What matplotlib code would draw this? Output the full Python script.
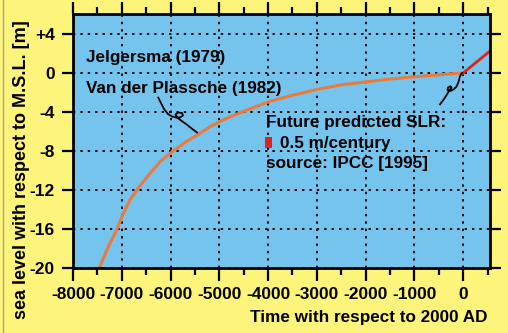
import matplotlib
matplotlib.use("Agg")
import matplotlib.pyplot as plt
from matplotlib.lines import Line2D
from matplotlib.patches import Rectangle
from matplotlib.ticker import MultipleLocator

# ---- data ----
past_years = [-7460, -7276, -7104, -6968, -6831, -6661, -6455, -6215, -5975,
              -5668, -5395, -5190, -4917, -4437, -3959, -3481, -3001, -2523,
              -1975, -1497, -1019, -540, 0]
past_level = [-20.0, -17.8, -16.1, -14.4, -13.0, -11.8, -10.5, -9.1, -8.1,
              -7.0, -6.2, -5.5, -4.8, -3.8, -2.9, -2.26, -1.7, -1.23,
              -0.9, -0.62, -0.4, -0.2, 0.0]
future_years = [0, 550]
future_level = [0.0, 2.25]

x_ticks = [-8000, -7000, -6000, -5000, -4000, -3000, -2000, -1000, 0]
x_ticklabels = ["-8000", "-7000", "-6000", "-5000", "-4000", "-3000", "-2000", "-1000", "0"]
y_ticks = [4, 0, -4, -8, -12, -16, -20]
y_ticklabels = ["+4", "0", "-4", "-8", "-12", "-16", "-20"]

plt.rcParams["font.family"] = ["Liberation Sans", "DejaVu Sans"]
plt.rcParams["font.weight"] = "bold"

YELLOW = "#FDF47C"
BLUE = "#74C4EE"
ORANGE = "#EC7A3C"
RED = "#E0221C"

W, H = 508, 333
fig = plt.figure(figsize=(W / 100, H / 100), dpi=100, facecolor=YELLOW)
ax = fig.add_axes([73 / W, 1 - 268 / H, (490 - 73) / W, (268 - 14) / H])
ax.set_facecolor(BLUE)
ax.set_xlim(-8000, 550)
ax.set_ylim(-20, 6.05)

ax.plot(past_years, past_level, color=ORANGE, lw=2.2, solid_capstyle="butt",
        solid_joinstyle="round", zorder=3)
ax.plot(future_years, future_level, color=RED, lw=2.0, zorder=3)

ax.set_xticks(x_ticks)
ax.set_xticklabels(x_ticklabels)
ax.set_yticks(y_ticks)
ax.set_yticklabels(y_ticklabels)
ax.xaxis.set_minor_locator(MultipleLocator(500))

ax.grid(True, which="major", color="black", linestyle=(0, (1.2, 2.6)), lw=1.4)
for gl in ax.get_xgridlines() + ax.get_ygridlines():
    gl.set_zorder(1)

for s in ax.spines.values():
    s.set_linewidth(2.0)
    s.set_zorder(6)
ax.tick_params(axis="x", which="major", direction="out", length=9, width=1.6,
               top=True, bottom=True, pad=5, labelsize=12.5)
ax.tick_params(axis="x", which="minor", direction="out", length=5, width=1.6,
               top=True, bottom=True)
ax.tick_params(axis="y", which="major", direction="out", length=8, width=1.6,
               left=True, right=True, pad=5, labelsize=12.5)
for lab in ax.get_xticklabels() + ax.get_yticklabels():
    lab.set_fontweight("bold")

# axis titles
ax.text(0.993, -0.213, "Time with respect to 2000 AD", transform=ax.transAxes,
        ha="right", va="baseline", fontsize=12.3, fontweight="bold")
fig.text(22 / W, 1 - 170 / H, "sea level with respect to M.S.L. [m]", rotation=90,
         ha="center", va="center", fontsize=13, fontweight="bold")

# annotations
tk = dict(transform=ax.transAxes, ha="left", va="baseline", fontsize=12.3, fontweight="bold")
ax.text(0.031, 0.811, "Jelgersma (1979)", **tk)
ax.text(0.031, 0.689, "Van der Plassche (1982)", **tk)
ax.text(0.463, 0.556, "Future predicted SLR:", **tk)
ax.text(0.497, 0.474, "0.5 m/century", **tk)
ax.text(0.463, 0.394, "source: IPCC [1995]", **tk)
ax.add_patch(Rectangle((0.461, 0.472), 0.017, 0.043, transform=ax.transAxes,
                       facecolor=RED, edgecolor="none", zorder=4))

def pix_line(pts):
    xs = [p[0] / W for p in pts]
    ys = [1 - p[1] / H for p in pts]
    fig.add_artist(Line2D(xs, ys, transform=fig.transFigure, color="black", lw=1.3,
                          solid_joinstyle="round", zorder=5))

pix_line([(158.3, 97.7), (161, 103), (164, 109), (168, 114), (172, 116.5), (176, 117.5),
          (180, 117.5), (183, 115.5), (182, 113), (178, 112.5), (175.5, 114.5), (177, 117.5),
          (181, 120.5), (186, 124), (191, 128), (197, 132.5)])
pix_line([(440, 104.3), (443, 100.5), (446, 96), (449, 91), (451.5, 87.5), (450.5, 86.3),
          (448, 87.5), (447.5, 90), (450, 91), (453.5, 89.5), (456.5, 86.5), (458.5, 82),
          (459.5, 78), (460.5, 75), (462, 73)])

# thin frame line at left edge
fig.add_artist(Line2D([3 / W, 3 / W], [0, 1], transform=fig.transFigure, color="#A8A48A", lw=1))

fig.savefig("out.png", dpi=100, facecolor=YELLOW)
